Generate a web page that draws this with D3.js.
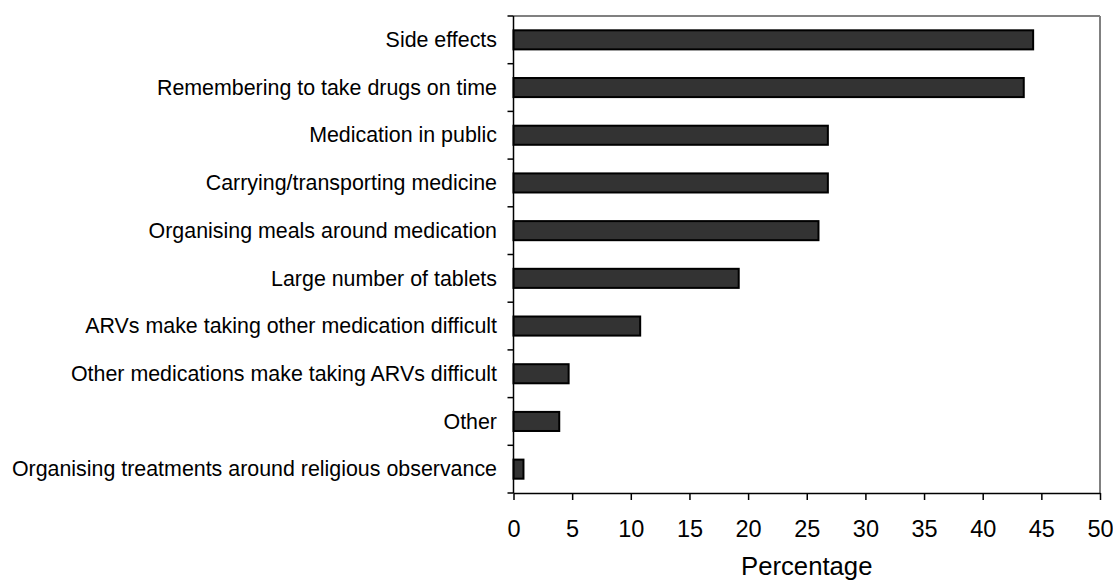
<!DOCTYPE html>
<html>
<head>
<meta charset="utf-8">
<script src="https://cdn.jsdelivr.net/npm/d3@7"></script>
<style>
    body { margin: 0; background: #fff; }
    svg { display: block; font-family: Arial, "Liberation Sans", sans-serif; }
</style>
</head>
<body>
<svg id="chart" width="1113" height="581"></svg>
<script>
// categories top to bottom, value in percent
var categories = [
    "Side effects",
    "Remembering to take drugs on time",
    "Medication in public",
    "Carrying/transporting medicine",
    "Organising meals around medication",
    "Large number of tablets",
    "ARVs make taking other medication difficult",
    "Other medications make taking ARVs difficult",
    "Other",
    "Organising treatments around religious observance"
];
var values = [44.3, 43.5, 26.8, 26.8, 26.0, 19.2, 10.8, 4.7, 3.9, 0.85];
var xTicks = [0, 5, 10, 15, 20, 25, 30, 35, 40, 45, 50];
var xTitle = "Percentage";

var svg = d3.select("#chart");
var m = {l: 513.5, t: 16, r: 13, b: 88};
var w = 1113 - m.l - m.r, h = 581 - m.t - m.b;
var g = svg.append("g").attr("transform", "translate(" + m.l + "," + m.t + ")");

var x = d3.scaleLinear().domain([0, 50]).range([0, w]);
var pad = 0.6;
var y = d3.scaleBand().domain(categories).range([0, h])
    .paddingInner(pad).paddingOuter(pad / 2);
var step = y.step();

// frame top / right in grey
g.append("line").attr("x1", 0).attr("x2", w).attr("y1", 0).attr("y2", 0)
    .attr("stroke", "#808080").attr("stroke-width", 2);
g.append("line").attr("x1", w).attr("x2", w).attr("y1", 0).attr("y2", h)
    .attr("stroke", "#808080").attr("stroke-width", 2);

// bars
g.selectAll(".bar").data(values).join("rect")
    .attr("class", "bar")
    .attr("x", 0)
    .attr("y", (d, i) => y(categories[i]))
    .attr("width", d => x(d))
    .attr("height", y.bandwidth())
    .attr("fill", "#333333")
    .attr("stroke", "#000")
    .attr("stroke-width", 2);

// y axis: line + ticks at band boundaries
var bounds = d3.range(categories.length + 1).map(i => i * step);
g.append("line").attr("x1", 0).attr("x2", 0).attr("y1", 0).attr("y2", h)
    .attr("stroke", "#000").attr("stroke-width", 1.5);
g.selectAll(".ytick").data(bounds).join("line")
    .attr("class", "ytick")
    .attr("x1", -6).attr("x2", 0)
    .attr("y1", d => d).attr("y2", d => d)
    .attr("stroke", "#000").attr("stroke-width", 1.5);
g.selectAll(".ylab").data(categories).join("text")
    .attr("class", "ylab")
    .attr("x", -16.5)
    .attr("y", d => y(d) + y.bandwidth() / 2 + 7.2)
    .attr("text-anchor", "end")
    .attr("font-size", "21.4px")
    .attr("fill", "#000")
    .text(d => d);

// x axis
var xa = g.append("g").attr("transform", "translate(0," + h + ")")
    .call(d3.axisBottom(x).tickValues(xTicks).tickSize(7).tickPadding(5).tickSizeOuter(0));
xa.select(".domain").attr("stroke", "#000").attr("stroke-width", 1.5);
xa.selectAll(".tick line").attr("stroke", "#000").attr("stroke-width", 1.5);
xa.selectAll(".tick text")
    .attr("font-family", "Arial, 'Liberation Sans', sans-serif")
    .attr("font-size", "23.5px")
    .attr("fill", "#000")
    .attr("dy", null)
    .attr("y", 43.5);

g.append("text")
    .attr("x", w / 2)
    .attr("y", h + 81.5)
    .attr("text-anchor", "middle")
    .attr("font-size", "25.7px")
    .attr("fill", "#000")
    .text(xTitle);
</script>
</body>
</html>
